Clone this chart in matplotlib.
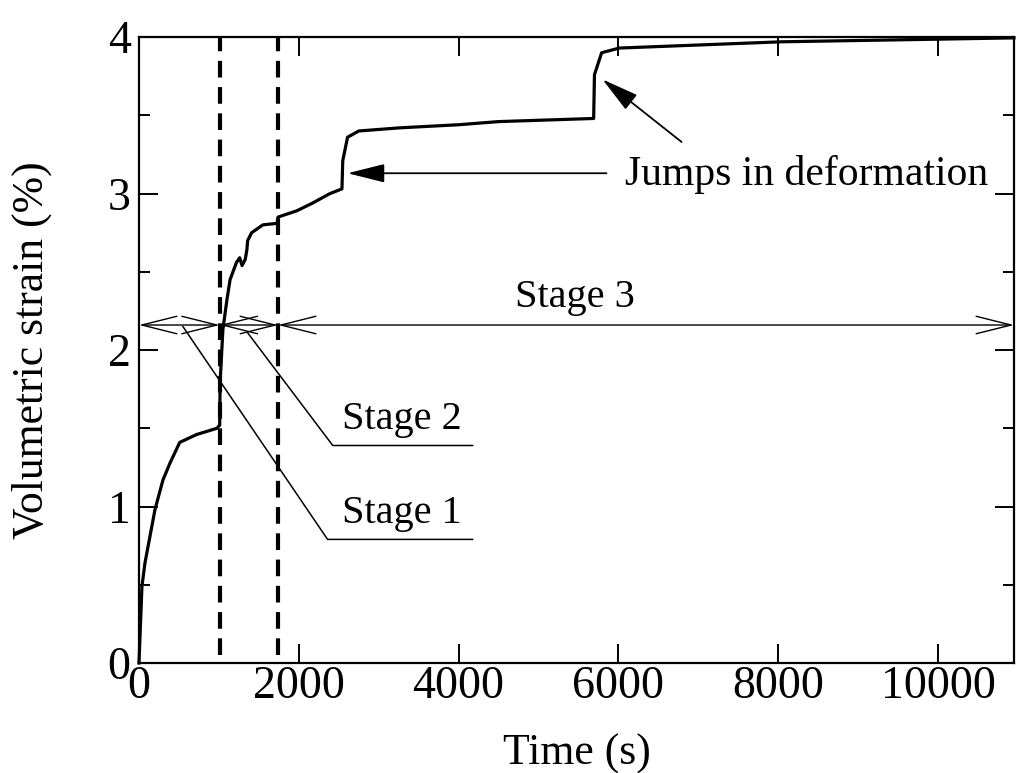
import matplotlib
matplotlib.use("Agg")
import matplotlib.pyplot as plt
from matplotlib.patches import ArrowStyle

plt.rcParams['font.family'] = ['Liberation Serif', 'DejaVu Serif']
plt.rcParams['mathtext.fontset'] = 'stix'

# ---- data ----
time_s = [0, 37, 75, 200, 300, 390, 510, 720, 975, 1010, 1015, 1050, 1100, 1140,
          1220, 1260, 1290, 1330, 1350, 1360, 1410, 1550, 1730, 1740, 1975, 2175,
          2390, 2540, 2550, 2610, 2750, 3260, 4000, 4500, 5690, 5700, 5790, 6010,
          8040, 10950]
vol_strain = [0, 0.49, 0.64, 0.98, 1.17, 1.28, 1.41, 1.46, 1.50, 1.52, 1.79, 2.13, 2.32, 2.45,
              2.56, 2.59, 2.54, 2.58, 2.64, 2.70, 2.75, 2.80, 2.81, 2.85, 2.89, 2.94,
              3.00, 3.03, 3.21, 3.36, 3.40, 3.42, 3.44, 3.46, 3.48, 3.76, 3.90, 3.93,
              3.97, 3.995]
stage_bounds = [0, 1010, 1740, 10950]
stage_labels = ["Stage 1", "Stage 2", "Stage 3"]
stage_arrow_y = 2.16
x_ticks = [0, 2000, 4000, 6000, 8000, 10000]
y_ticks = [0, 1, 2, 3, 4]

fig = plt.figure(figsize=(10.16, 7.73), dpi=100)
ax = fig.add_axes([0.1368, 0.1423, 0.998 - 0.1368, 0.952 - 0.1423])

ax.plot(time_s, vol_strain, color='black', lw=2.3, solid_joinstyle='round', clip_on=False, zorder=3)

for xb in stage_bounds[1:3]:
    ax.plot([xb, xb], [0.05, 4.0], color='black', lw=3, dashes=(4, 2.3), zorder=2)

# stage arrows
astyle = ArrowStyle('<->', head_length=0.42, head_width=0.105)
for a, b in zip(stage_bounds[:-1], stage_bounds[1:]):
    ax.annotate("", xy=(b, stage_arrow_y), xytext=(a, stage_arrow_y),
                arrowprops=dict(arrowstyle=astyle, color='black', lw=1.0,
                                shrinkA=0, shrinkB=0, mutation_scale=60),
                annotation_clip=False)

# leaders for stage 1 and 2
ax.plot([550, 2360, 4175], [2.15, 0.79, 0.79], color='black', lw=1.1)
ax.plot([1360, 2425, 4175], [2.11, 1.39, 1.39], color='black', lw=1.1)
ax.text(3290, 0.835, stage_labels[0], fontsize=29, ha='center', va='bottom')
ax.text(3290, 1.435, stage_labels[1], fontsize=29, ha='center', va='bottom')
ax.text(5450, 2.22, stage_labels[2], fontsize=29, ha='center', va='bottom')

# jumps annotation
jstyle = ArrowStyle('-|>', head_length=0.42, head_width=0.105)
ax.annotate("", xy=(2610, 3.13), xytext=(5850, 3.13),
            arrowprops=dict(arrowstyle=jstyle, color='black', lw=1.3,
                            shrinkA=0, shrinkB=0, mutation_scale=55))
ax.annotate("", xy=(5800, 3.73), xytext=(6790, 3.33),
            arrowprops=dict(arrowstyle=jstyle, color='black', lw=1.3,
                            shrinkA=0, shrinkB=0, mutation_scale=55))
ax.text(6080, 3.12, "Jumps in deformation", fontsize=30, ha='left', va='center')

ax.set_xlim(0, 10950)
ax.set_ylim(0, 4)
ax.set_xticks(x_ticks)
ax.set_yticks(y_ticks)
ax.set_yticks([0.5, 1.5, 2.5, 3.5], minor=True)
ax.tick_params(which='both', direction='in', top=True, right=True, width=1.4)
ax.tick_params(which='major', length=14, labelsize=33)
ax.tick_params(axis='x', which='major', pad=2)
ax.tick_params(axis='y', which='major', pad=6)
ax.tick_params(which='minor', length=8)
for s in ax.spines.values():
    s.set_linewidth(1.6)

ax.set_xlabel("Time (s)", fontsize=31.5)
ax.set_ylabel("Volumetric strain (%)", fontsize=31.5)
ax.xaxis.set_label_coords(0.5, -0.112)
ax.yaxis.set_label_coords(-0.099, 0.5)

fig.savefig("out.png", dpi=100)
